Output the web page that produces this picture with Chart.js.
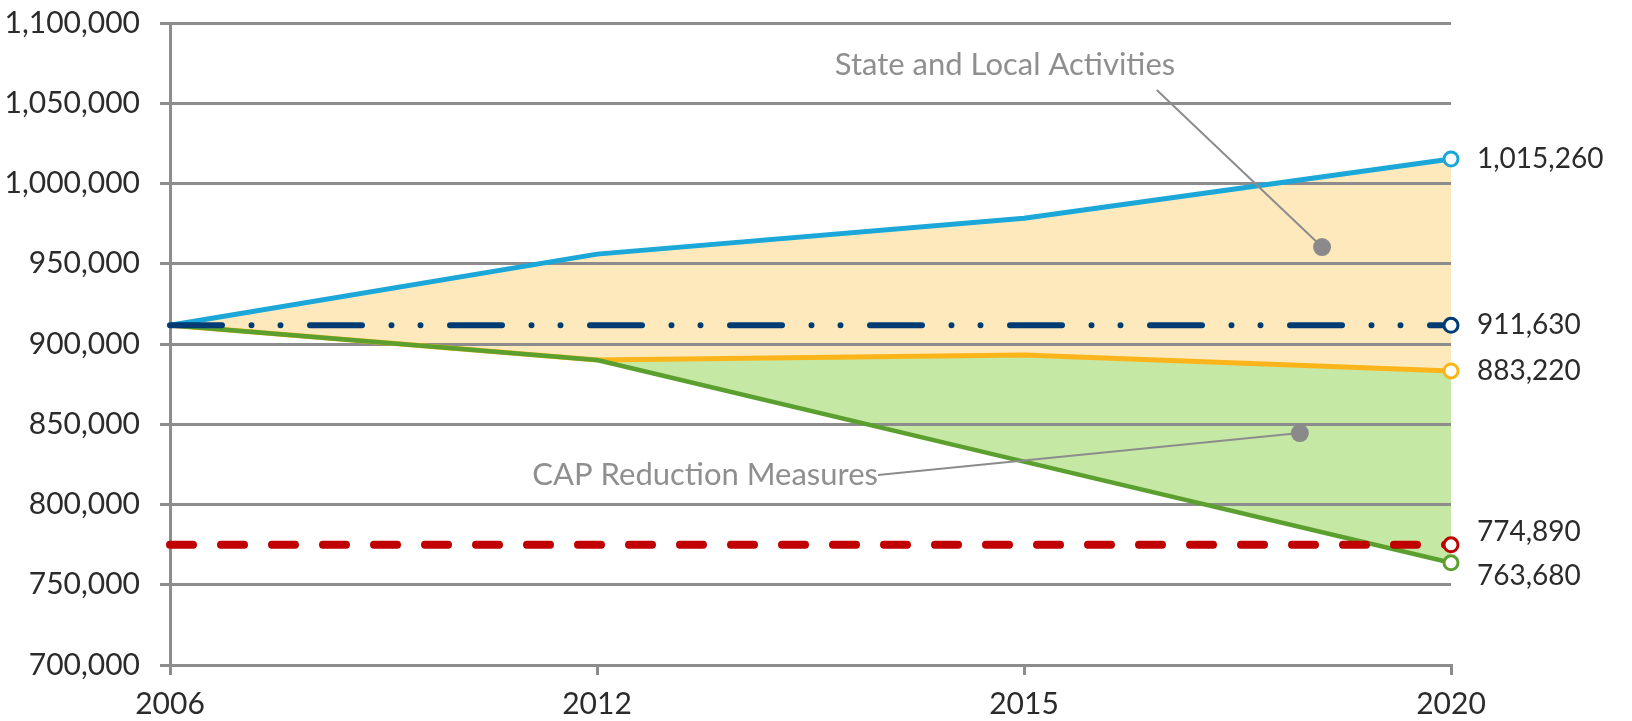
<!DOCTYPE html>
<html>
<head>
<meta charset="utf-8">
<script src="https://cdn.jsdelivr.net/npm/chart.js@4.4.1/dist/chart.umd.min.js"></script>
<style>
    html, body { margin: 0; padding: 0; background: #fff; }
    #wrap { width: 1632px; height: 721px; position: relative; }
</style>
</head>
<body>
<div id="wrap"><canvas id="emissionsChart"></canvas></div>
<script>
// years on the x axis
const years = ['2006', '2012', '2015', '2020'];

// emission scenarios (MTCO2e)
const businessAsUsual = [911630, 956000, 978300, 1015260];
const stateLocal = [911630, 890000, 893100, 883220];
const capReduction = [911630, 890000, 826700, 763680];
const baseline2006 = [911630, 911630, 911630, 911630];
const target2020 = [774890, 774890, 774890, 774890];

// y axis range
const yMin = 700000;
const yMax = 1100000;
const yStep = 50000;

const FONT = 'Lato, "Open Sans", sans-serif';
const GRID = '#8c8c8c';

const fmt = v => Math.round(v).toLocaleString('en-US');

// only the 2020 end point gets a marker
const lastPointRadius = ctx => ctx.dataIndex === years.length - 1 ? 7 : 0;

function line(data, color, extra) {
    return Object.assign({
        data: data,
        borderColor: color,
        borderWidth: 5,
        pointRadius: lastPointRadius,
        pointHoverRadius: lastPointRadius,
        pointBackgroundColor: '#fff',
        pointBorderColor: color,
        pointBorderWidth: 3,
        borderCapStyle: 'round',
        borderJoinStyle: 'round',
        tension: 0,
        fill: false,
        clip: false
    }, extra);
}

// value labels to the right of the 2020 markers, pushed apart when crowded
const endLabels = {
    id: 'endLabels',
    afterDraw(chart) {
        const ctx = chart.ctx;
        const minGap = 44;
        const items = chart.data.datasets.map((ds, i) => {
            const pt = chart.getDatasetMeta(i).data[years.length - 1];
            return { text: fmt(ds.data[years.length - 1]), x: pt.x, y: pt.y };
        }).sort((a, b) => a.y - b.y);

        for (let i = 1; i < items.length; i++) {
            const a = items[i - 1], b = items[i];
            if (b.y - a.y < minGap) {
                const mid = (a.y + b.y) / 2;
                a.y = mid - minGap / 2;
                b.y = mid + minGap / 2;
            }
        }

        ctx.save();
        ctx.font = '28px ' + FONT;
        ctx.fillStyle = '#2b2b2b';
        ctx.textAlign = 'left';
        ctx.textBaseline = 'middle';
        items.forEach(it => ctx.fillText(it.text, it.x + 26, it.y));
        ctx.restore();
    }
};

// grey callouts with a leader line ending in a dot
const callouts = {
    id: 'callouts',
    afterDatasetsDraw(chart, args, opts) {
        const ctx = chart.ctx;
        const xs = chart.scales.x, ys = chart.scales.y;
        const px = p => [xs.getPixelForValue(p[0]), ys.getPixelForValue(p[1])];

        ctx.save();
        opts.items.forEach(c => {
            const from = px(c.from), to = px(c.to), at = px(c.textAt);
            ctx.strokeStyle = GRID;
            ctx.lineWidth = 2;
            ctx.beginPath();
            ctx.moveTo(from[0], from[1]);
            ctx.lineTo(to[0], to[1]);
            ctx.stroke();

            ctx.fillStyle = '#8a8a8a';
            ctx.beginPath();
            ctx.arc(to[0], to[1], 9, 0, Math.PI * 2);
            ctx.fill();

            ctx.font = '31px ' + FONT;
            ctx.fillStyle = '#8f8f8f';
            ctx.textAlign = c.align;
            ctx.textBaseline = 'middle';
            ctx.fillText(c.text, at[0], at[1]);
        });
        ctx.restore();
    }
};

const ctx = document.getElementById('emissionsChart');

new Chart(ctx, {
    type: 'line',
    data: {
        labels: years,
        datasets: [
            line(businessAsUsual, '#1ba7d8', { order: 4, fill: { target: 1 }, backgroundColor: '#fde9bb' }),
            line(stateLocal, '#fbb51a', { order: 3, fill: { target: 2 }, backgroundColor: '#c6e8a5' }),
            line(capReduction, '#5b9f2f', { order: 2, borderWidth: 4.5 }),
            line(baseline2006, '#003c74', { order: 1, borderWidth: 6, borderDash: [52, 29.5, 0, 29, 0, 29.5] }),
            line(target2020, '#c00000', { order: 0, borderWidth: 8, borderDash: [23, 28] })
        ]
    },
    options: {
        responsive: true,
        maintainAspectRatio: false,
        animation: false,
        layout: { padding: { top: 23, right: 181, bottom: 0, left: 0 } },
        plugins: {
            legend: { display: false },
            tooltip: { enabled: false },
            filler: { drawTime: 'beforeDraw' },
            callouts: {
                items: [
                    { text: 'State and Local Activities', align: 'left',
                      textAt: [1.557, 1073800], from: [2.311, 1058300], to: [2.698, 960400] },
                    { text: 'CAP Reduction Measures', align: 'right',
                      textAt: [1.658, 818400], from: [1.658, 818400], to: [2.646, 844500] }
                ]
            }
        },
        scales: {
            x: {
                type: 'category',
                offset: false,
                afterFit(scale) {
                    scale.height = 56;
                    scale.paddingLeft = 0;
                    scale.paddingRight = 0;
                },
                grid: { display: true, drawOnChartArea: false, drawTicks: true, tickLength: 10, color: GRID, lineWidth: 3 },
                border: { display: true, color: GRID, width: 3 },
                ticks: { color: '#2b2b2b', font: { family: FONT, size: 30 }, padding: 11, maxRotation: 0 }
            },
            y: {
                min: yMin,
                max: yMax,
                afterFit(scale) {
                    scale.width = 170;
                    scale.paddingTop = 0;
                    scale.paddingBottom = 0;
                },
                grid: { color: GRID, lineWidth: 3, tickLength: 10 },
                border: { display: true, color: GRID, width: 3 },
                ticks: {
                    stepSize: yStep,
                    color: '#2b2b2b',
                    font: { family: FONT, size: 30 },
                    padding: 20,
                    callback: v => fmt(v)
                }
            }
        }
    },
    plugins: [callouts, endLabels]
});
</script>
</body>
</html>
